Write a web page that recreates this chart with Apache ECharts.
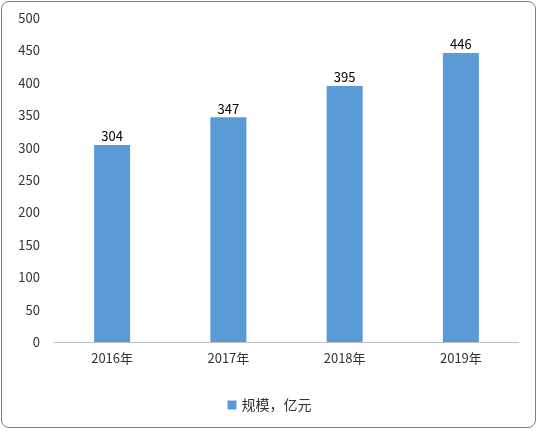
<!DOCTYPE html>
<html>
<head>
<meta charset="utf-8">
<script src="https://cdn.jsdelivr.net/npm/echarts@6/dist/echarts.min.js"></script>
<style>
  html, body { margin: 0; padding: 0; background: #fff; }
  #frame { position: absolute; left: 1px; top: 1px; width: 535px; height: 427px;
           border: 1px solid #7f7f7f; border-radius: 8px; box-sizing: border-box; }
  #chart { position: absolute; left: 0; top: 0; width: 539px; height: 431px; }
</style>
</head>
<body>
<div id="frame"></div>
<div id="chart"></div>
<script>
// 数据
const categories = ['2016年', '2017年', '2018年', '2019年'];
const values = [304, 347, 395, 446];
const seriesName = '规模，亿元';

const chart = echarts.init(document.getElementById('chart'));
const font = 'Noto Sans CJK SC';

chart.setOption({
  animation: false,
  textStyle: { fontFamily: font },
  grid: { left: 54, right: 20, top: 18, bottom: 89 },
  xAxis: {
    type: 'category',
    data: categories,
    axisLine: { lineStyle: { color: '#bfbfbf' } },
    axisTick: { show: false },
    axisLabel: { color: '#333', fontSize: 13, margin: 10 }
  },
  yAxis: {
    type: 'value',
    min: 0,
    max: 500,
    interval: 50,
    splitLine: { show: false },
    axisLine: { show: false },
    axisTick: { show: false },
    axisLabel: { color: '#333', fontSize: 13, margin: 14 }
  },
  legend: {
    bottom: 14,
    left: 'center',
    itemWidth: 9,
    itemHeight: 9,
    icon: 'rect',
    textStyle: { color: '#333', fontSize: 14 },
    data: [seriesName]
  },
  series: [{
    name: seriesName,
    type: 'bar',
    data: values,
    barWidth: 36,
    itemStyle: { color: '#5b9bd5' },
    label: { show: true, position: 'top', color: '#000', fontSize: 13, distance: 2 }
  }]
});
</script>
</body>
</html>
